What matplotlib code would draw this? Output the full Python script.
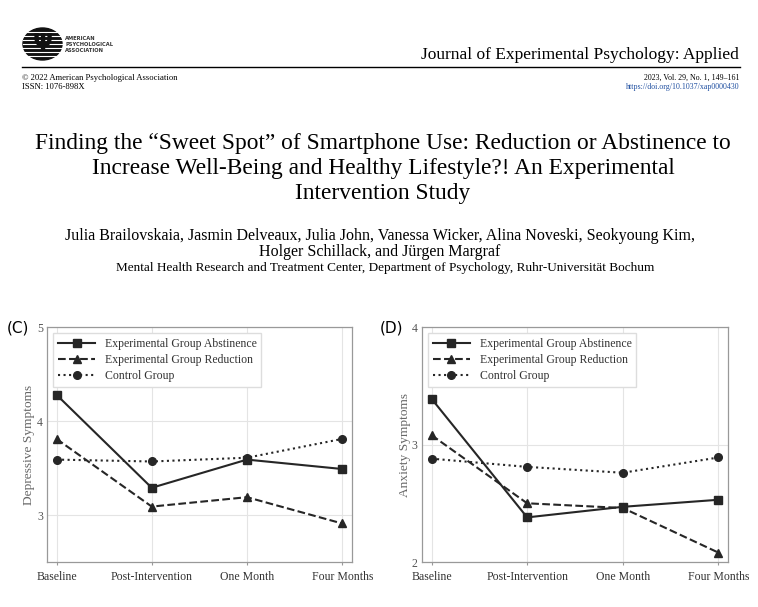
import numpy as np
import matplotlib.pyplot as plt
from matplotlib.patches import Ellipse

# data
timepoints = ['Baseline', 'Post-Intervention', 'One Month', 'Four Months']
group_names = ['Experimental Group Abstinence', 'Experimental Group Reduction', 'Control Group']

depressive_abstinence = [4.28, 3.29, 3.59, 3.49]
depressive_reduction = [3.81, 3.09, 3.19, 2.91]
depressive_control = [3.59, 3.57, 3.61, 3.81]

anxiety_abstinence = [3.39, 2.38, 2.47, 2.53]
anxiety_reduction = [3.08, 2.50, 2.46, 2.08]
anxiety_control = [2.88, 2.81, 2.76, 2.89]

W, H = 758, 607
SERIF = 'Liberation Serif'
LINE_COL = '#262626'


def px(x, y):
    # pixel position -> figure fraction
    return x / W, 1 - y / H


fig = plt.figure(figsize=(W / 100, H / 100), dpi=100)

# ---- header ----
logo = Ellipse(px(42.5, 44), 39 / W, 32 / H, transform=fig.transFigure, color='#111111')
fig.patches.append(logo)
for yy in [32, 36, 40, 44, 48, 52, 56]:
    fig.add_artist(plt.Line2D([23 / W, 62 / W], [1 - yy / H] * 2, color='white', lw=0.8))
fig.text(*px(42.5, 44), '\u03a8', color='#111111', fontsize=17, fontweight='bold',
         ha='center', va='center', family='DejaVu Sans')
for i, word in enumerate(['AMERICAN', 'PSYCHOLOGICAL', 'ASSOCIATION']):
    fig.text(*px(65, 38 + i * 6.5), word, fontsize=3.7, fontweight='bold', color='#333333',
             va='center', family='DejaVu Sans')

fig.text(*px(739, 55), 'Journal of Experimental Psychology: Applied', fontsize=12.5,
         ha='right', va='center', family=SERIF)
fig.add_artist(plt.Line2D([22 / W, 740 / W], [1 - 67 / H] * 2, color='black', lw=1.0))

fig.text(*px(22, 78), '\u00a9 2022 American Psychological Association', fontsize=6.2,
         va='center', family=SERIF)
fig.text(*px(22, 87), 'ISSN: 1076-898X', fontsize=6.2, va='center', family=SERIF)
fig.text(*px(740, 78), '2023, Vol. 29, No. 1, 149\u2013161', fontsize=5.7,
         ha='right', va='center', family=SERIF)
fig.text(*px(740, 87), 'https://doi.org/10.1037/xap0000430', fontsize=5.7, color='#1f4fa0',
         ha='right', va='center', family=SERIF)

title_lines = ['Finding the \u201cSweet Spot\u201d of Smartphone Use: Reduction or Abstinence to',
               'Increase Well-Being and Healthy Lifestyle?! An Experimental',
               'Intervention Study']
for i, line in enumerate(title_lines):
    fig.text(*px(383, 143 + i * 25.3), line, fontsize=16.8, ha='center', va='center',
             family=SERIF)

fig.text(*px(380, 236), 'Julia Brailovskaia, Jasmin Delveaux, Julia John, Vanessa Wicker, '
         'Alina Noveski, Seokyoung Kim,', fontsize=11.5, ha='center', va='center', family=SERIF)
fig.text(*px(380, 252), 'Holger Schillack, and J\u00fcrgen Margraf', fontsize=11.5,
         ha='center', va='center', family=SERIF)
fig.text(*px(385, 268), 'Mental Health Research and Treatment Center, Department of Psychology, '
         'Ruhr-Universit\u00e4t Bochum', fontsize=9.5, ha='center', va='center', family=SERIF)


# ---- panels ----
def panel(rect, series, ylim, yticks, ylabel, tag, tag_x):
    ax = fig.add_axes(rect)
    x = np.arange(len(timepoints))
    styles = [('-', 's'), ('--', '^'), (':', 'o')]
    for vals, name, (ls, mk) in zip(series, group_names, styles):
        ax.plot(x, vals, linestyle=ls, marker=mk, color=LINE_COL, lw=1.5,
                markersize=5.5, label=name)
    ax.set_xlim(-0.1, 3.1)
    ax.set_ylim(*ylim)
    ax.set_xticks(x)
    ax.set_xticklabels(timepoints, family=SERIF, fontsize=8.5, color='#333333')
    ax.set_yticks(yticks)
    ax.set_yticklabels([str(t) for t in yticks], family=SERIF, fontsize=8.5, color='#555555')
    ax.set_ylabel(ylabel, family=SERIF, fontsize=9.6, color='#666666', labelpad=1)
    ax.grid(True, color='#e4e4e4', lw=0.8)
    ax.tick_params(axis='x', length=2.5, color='#999999', pad=4)
    ax.tick_params(axis='y', length=0, pad=3)
    for s in ax.spines.values():
        s.set_color('#999999')
        s.set_linewidth(0.9)
    leg = ax.legend(loc='upper left', prop={'family': SERIF, 'size': 8.5}, handlelength=3.2,
                    borderaxespad=0.5, framealpha=1, edgecolor='#dddddd', fancybox=False,
                    labelspacing=0.35)
    for t in leg.get_texts():
        t.set_color('#333333')
    fig.text(*px(tag_x, 328), tag, fontsize=11, va='center', family='DejaVu Sans')
    return ax


panel([0.062, 0.0741, 0.402, 0.387],
      [depressive_abstinence, depressive_reduction, depressive_control],
      (2.5, 5), [3, 4, 5], 'Depressive Symptoms', '(C)', 7)
panel([0.5567, 0.0741, 0.4037, 0.387],
      [anxiety_abstinence, anxiety_reduction, anxiety_control],
      (2, 4), [2, 3, 4], 'Anxiety Symptoms', '(D)', 380)

fig.savefig('out.png', dpi=100)
